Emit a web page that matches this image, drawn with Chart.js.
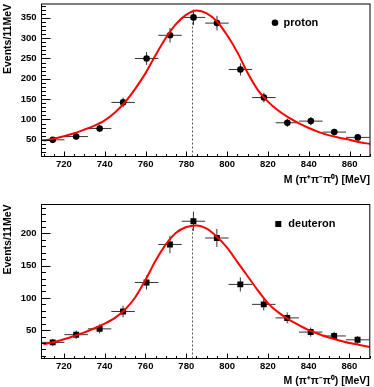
<!DOCTYPE html>
<html>
<head>
<meta charset="utf-8">
<script src="https://cdn.jsdelivr.net/npm/chart.js@4/dist/chart.umd.min.js"></script>
<style>
  html, body { margin: 0; padding: 0; background: #fff; }
  #wrap { position: relative; width: 374px; height: 387px; }
  canvas { position: absolute; left: 0; }
</style>
</head>
<body>
<div id="wrap">
  <canvas id="top" width="374" height="193" style="top:0"></canvas>
  <canvas id="bot" width="374" height="194" style="top:193px"></canvas>
</div>
<script>
  // bin centres (MeV) and counts
  const massBins = [714.5, 726, 737.5, 749, 760.5, 772, 783.5, 795, 806.5, 818, 829.5, 841, 852.5, 864];
  const protonCounts = [50, 58, 78, 142, 250, 307, 351, 337, 223, 154, 92, 96, 69, 56];
  const protonErrors = [7, 8, 9, 12, 16, 18, 19, 18, 15, 12, 10, 10, 8, 7.5];
  const deuteronCounts = [31, 43, 52, 79, 124, 183, 219, 193, 121, 90, 69, 47, 41, 35];
  const deuteronErrors = [5.5, 6.5, 7, 9, 11, 13.5, 15, 14, 11, 9.5, 8.5, 7, 6.5, 6];
  const halfBin = 5.75;

  // fitted curves, sampled by eye
  const fitMass = [710, 715, 720, 725, 730, 735, 740, 745, 750, 755, 760, 765, 770, 775, 780, 785,
    790, 795, 800, 805, 810, 815, 820, 825, 830, 835, 840, 845, 850, 855, 860, 865, 870];
  const protonFit = [48, 53, 59, 66, 75, 85, 98, 117, 143, 176, 214, 259, 301, 335, 358, 368,
    361, 341, 307, 265, 215, 173, 144, 122, 105, 91, 79, 69, 61, 55, 50, 44, 40];
  const deuteronFit = [28, 31.5, 36, 41, 46.5, 53, 60, 69, 82, 101, 128, 158, 183, 201, 210, 212.5,
    207.5, 195, 178, 156, 134, 112, 92, 78, 67, 58, 50, 44, 38.5, 34, 30, 27, 24];

  const omegaMass = 783;
  const protonPeak = 366;
  const deuteronPeak = 212;

  const massTicks = [720, 740, 760, 780, 800, 820, 840, 860];
  const protonTicks = [50, 100, 150, 200, 250, 300, 350];
  const deuteronTicks = [50, 100, 150, 200];

  const FONT = "'Liberation Sans', Arial, sans-serif";

  function rootStyle(p) {
    return {
      id: 'rootStyle',
      beforeDatasetsDraw(chart) {
        const ctx = chart.ctx;
        const x = chart.scales.x, y = chart.scales.y;
        ctx.save();
        // dashed line at the omega mass
        ctx.strokeStyle = '#555';
        ctx.lineWidth = 1;
        ctx.setLineDash([2, 2]);
        const px = Math.round(x.getPixelForValue(omegaMass)) + 0.5;
        ctx.beginPath();
        ctx.moveTo(px, y.getPixelForValue(y.min));
        ctx.lineTo(px, y.getPixelForValue(p.peak));
        ctx.stroke();
        ctx.setLineDash([]);
        // error bars
        ctx.strokeStyle = '#333';
        p.counts.forEach((v, i) => {
          const m = massBins[i];
          const cx = x.getPixelForValue(m), cy = y.getPixelForValue(v);
          ctx.beginPath();
          ctx.moveTo(x.getPixelForValue(m - halfBin), cy);
          ctx.lineTo(x.getPixelForValue(m + halfBin), cy);
          ctx.moveTo(cx, y.getPixelForValue(v - p.errors[i]));
          ctx.lineTo(cx, y.getPixelForValue(v + p.errors[i]));
          ctx.stroke();
        });
        ctx.restore();
      },
      afterDraw(chart) {
        const ctx = chart.ctx;
        const {left, right, top, bottom} = chart.chartArea;
        const x = chart.scales.x, y = chart.scales.y;
        ctx.save();
        ctx.strokeStyle = '#000';
        ctx.lineWidth = 1;
        ctx.strokeRect(left, top, right - left, bottom - top);
        ctx.beginPath();
        // ticks inside the frame, root style
        for (let v = Math.ceil(y.min / 10) * 10; v <= y.max; v += 10) {
          const py = Math.round(y.getPixelForValue(v)) + 0.5;
          ctx.moveTo(left, py);
          ctx.lineTo(left + (v % 50 === 0 ? 9 : 4.5), py);
        }
        for (let m = Math.ceil(x.min / 5) * 5; m <= x.max; m += 5) {
          const px = Math.round(x.getPixelForValue(m)) + 0.5;
          ctx.moveTo(px, bottom);
          ctx.lineTo(px, bottom - (m % 20 === 0 ? 5 : 2.5));
        }
        ctx.stroke();
        // legend
        ctx.fillStyle = '#000';
        ctx.beginPath();
        if (p.marker === 'circle') {
          ctx.arc(p.legendX, p.legendY, 3.3, 0, Math.PI * 2);
        } else {
          ctx.rect(p.legendX - 3, p.legendY - 3, 6, 6);
        }
        ctx.fill();
        ctx.font = 'bold 11px ' + FONT;
        ctx.textBaseline = 'middle';
        ctx.fillText(p.label, p.legendX + p.textGap, p.legendY);
        ctx.restore();
      }
    };
  }

  function panel(id, p) {
    new Chart(document.getElementById(id), {
      type: 'scatter',
      data: {
        datasets: [
          {
            data: fitMass.map((m, i) => ({x: m, y: p.fit[i]})),
            showLine: true,
            borderColor: '#ff0000',
            borderWidth: 2,
            pointRadius: 0,
            cubicInterpolationMode: 'monotone',
            clip: 0,
            order: 0
          },
          {
            data: massBins.map((m, i) => ({x: m, y: p.counts[i]})),
            pointStyle: p.marker,
            pointRadius: p.marker === 'circle' ? 3.3 : 4.2,
            backgroundColor: '#000',
            borderWidth: 0,
            order: 1
          }
        ]
      },
      options: {
        responsive: false,
        animation: false,
        layout: {padding: {top: p.padTop, right: 3.5, left: 0, bottom: 0}},
        plugins: {legend: {display: false}, tooltip: {enabled: false}},
        scales: {
          x: {
            type: 'linear',
            min: 709,
            max: 870,
            grid: {display: false, drawTicks: false},
            border: {display: false},
            afterBuildTicks: s => { s.ticks = massTicks.map(v => ({value: v})); },
            afterFit: s => { s.height = p.xHeight; s.paddingLeft = 0; s.paddingRight = 0; },
            ticks: {color: '#000', padding: 2, maxRotation: 0, font: {family: FONT, size: 9.5, weight: 'bold'}},
            title: {
              display: true, text: 'M (π⁺π⁻π⁰) [MeV]', align: 'end', color: '#000',
              padding: {top: 0, bottom: p.titlePad},
              font: {family: FONT, size: 10.5, weight: 'bold'}
            }
          },
          y: {
            min: p.yMin,
            max: p.yMax,
            grid: {display: false, drawTicks: false},
            border: {display: false},
            afterBuildTicks: s => { s.ticks = p.ticks.map(v => ({value: v})); },
            afterFit: s => { s.width = 41.5; s.paddingTop = 0; s.paddingBottom = 0; },
            ticks: {color: '#000', padding: 5, font: {family: FONT, size: 9.5, weight: 'bold'}},
            title: {
              display: true, text: 'Events/11MeV', align: 'end', color: '#000',
              padding: {top: 2, bottom: 0},
              font: {family: FONT, size: 10.5, weight: 'bold'}
            }
          }
        }
      },
      plugins: [rootStyle(p)]
    });
  }

  panel('top', {
    counts: protonCounts, errors: protonErrors, fit: protonFit, ticks: protonTicks,
    peak: protonPeak, yMin: 9, yMax: 384, marker: 'circle', label: 'proton',
    padTop: 3.5, xHeight: 36.5, titlePad: 6.7,
    legendX: 275, legendY: 22.7, textGap: 8.5
  });

  panel('bot', {
    counts: deuteronCounts, errors: deuteronErrors, fit: deuteronFit, ticks: deuteronTicks,
    peak: deuteronPeak, yMin: 6, yMax: 245, marker: 'rect', label: 'deuteron',
    padTop: 11.5, xHeight: 28.5, titlePad: 0,
    legendX: 278.3, legendY: 31, textGap: 10
  });
</script>
</body>
</html>
